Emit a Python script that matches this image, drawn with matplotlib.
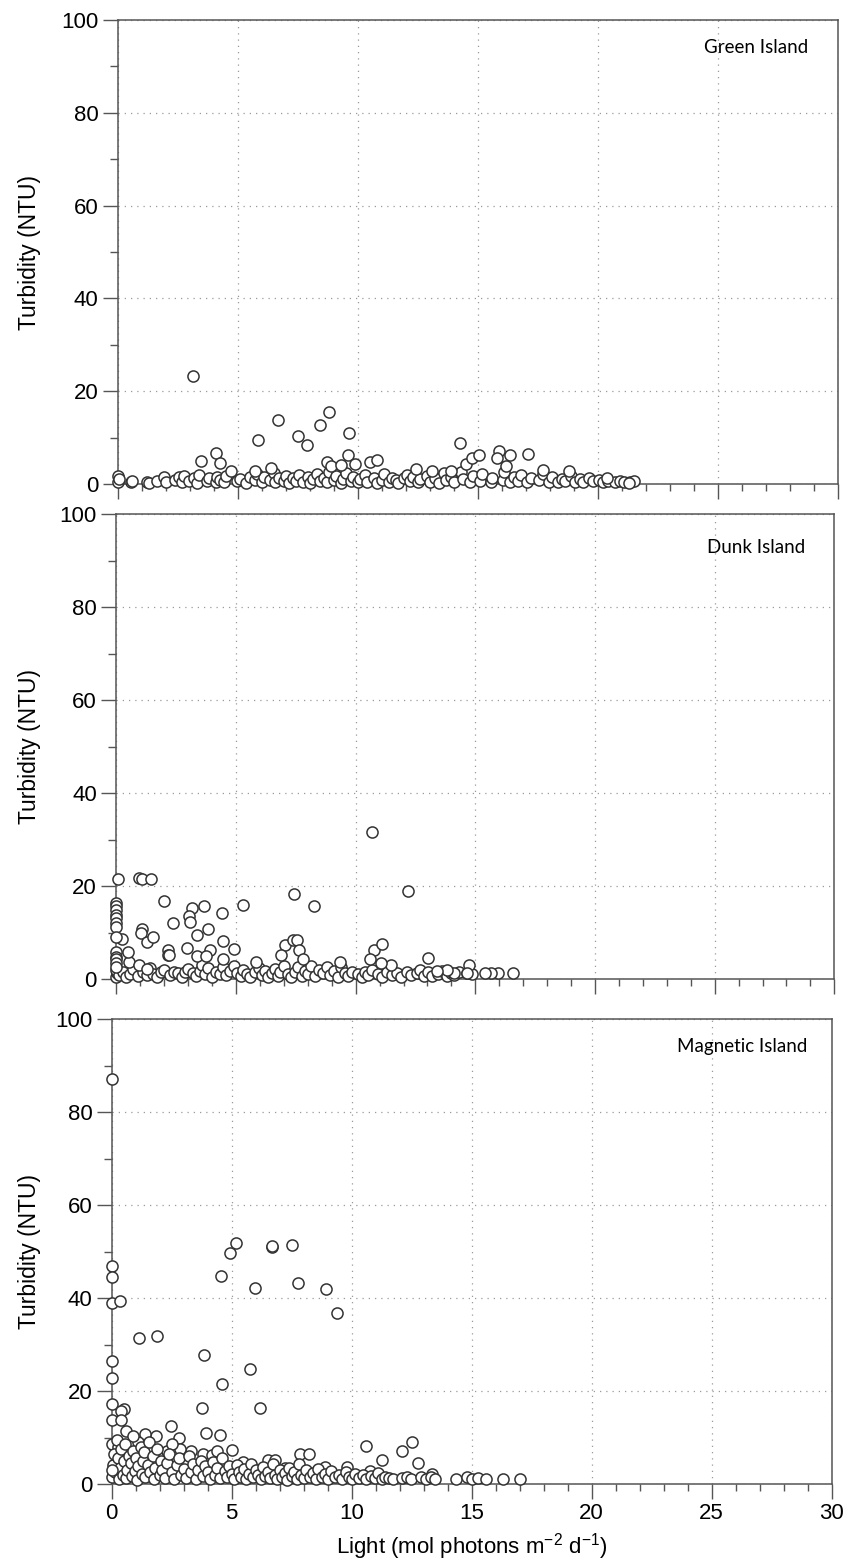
import matplotlib.pyplot as plt
from matplotlib.ticker import MultipleLocator

# Green Island: light vs turbidity
green_x = [0.0, 0.0, 0.05, 0.54, 0.6, 1.23, 1.3, 1.62, 1.93, 2.0,
           2.38, 2.55, 2.69, 2.75, 2.98, 3.19, 3.3, 3.38, 3.7, 3.8,
           4.08, 4.15, 4.27, 4.42, 4.5, 4.96, 5.1, 5.35, 5.5, 5.71,
           5.8, 6.0, 6.1, 6.35, 6.5, 6.57, 6.7, 6.93, 7.0, 7.14,
           7.3, 7.43, 7.54, 7.7, 7.93, 8.0, 8.15, 8.3, 8.43, 8.6,
           8.72, 8.8, 9.01, 9.1, 9.29, 9.4, 9.5, 9.72, 9.8, 10.01,
           10.1, 10.3, 10.4, 10.66, 10.8, 11.02, 11.1, 11.3, 11.45, 11.59,
           11.7, 11.95, 12.05, 12.16, 12.3, 12.52, 12.6, 12.88, 13.0, 13.24,
           13.4, 13.6, 13.7, 13.89, 14.0, 14.32, 14.4, 14.67, 14.8, 15.1,
           15.2, 15.54, 15.6, 16.04, 16.1, 16.33, 16.5, 16.68, 16.8, 17.04,
           17.2, 17.55, 17.7, 17.98, 18.1, 18.33, 18.5, 18.62, 18.9, 19.05,
           19.27, 19.4, 19.63, 19.8, 20.06, 20.2, 20.42, 20.7, 20.92, 21.1,
           21.35, 21.5,
           3.14, 5.85, 6.68, 7.5, 7.9, 8.43, 8.8, 9.64, 9.58, 3.45,
           4.08, 4.27, 4.7, 14.27, 14.53, 14.75, 15.06, 15.9, 15.8, 16.35,
           16.2, 17.1, 10.5, 10.8, 8.7, 8.9, 9.3, 9.9, 6.4, 5.7,
           12.45, 13.1, 13.9, 17.7, 18.8, 20.4, 21.3]
green_y = [0.5, 1.8, 1.0, 0.4, 0.6, 0.5, 0.3, 0.7, 1.6, 0.4,
           0.9, 1.5, 0.5, 1.8, 0.6, 1.4, 0.3, 1.9, 0.7, 1.2,
           0.5, 1.6, 0.9, 0.4, 1.7, 0.6, 1.1, 0.2, 1.5, 0.8,
           2.2, 0.5, 1.6, 0.9, 2.4, 0.4, 1.3, 0.6, 1.8, 0.3,
           1.2, 0.7, 2.0, 0.5, 1.5, 0.3, 1.0, 2.2, 0.6, 1.4,
           0.4, 2.6, 0.8, 1.7, 0.3, 1.1, 2.3, 0.6, 1.5, 0.4,
           1.0, 1.9, 0.5, 1.3, 0.3, 0.9, 2.1, 0.5, 1.4, 0.8,
           0.3, 1.2, 2.0, 0.6, 1.5, 0.4, 1.0, 1.8, 0.5, 1.3,
           0.3, 2.4, 0.9, 1.6, 0.5, 2.6, 1.0, 0.4, 1.8, 0.7,
           2.2, 0.5, 1.4, 0.9, 2.5, 0.4, 1.5, 0.7, 2.0, 0.5,
           1.3, 0.8, 2.2, 0.5, 1.6, 0.4, 1.1, 0.6, 1.7, 0.4,
           1.0, 0.5, 1.3, 0.6, 0.9, 0.4, 0.7, 0.5, 0.6, 0.4,
           0.5, 0.6,
           23.2, 9.5, 13.8, 10.4, 8.4, 12.7, 15.5, 10.9, 6.2, 4.9,
           6.6, 4.6, 2.7, 8.8, 4.4, 5.5, 6.2, 7.2, 5.6, 6.2,
           3.8, 6.4, 4.7, 5.2, 4.7, 3.8, 4.0, 4.4, 3.4, 2.7,
           3.2, 2.7, 2.7, 3.0, 2.7, 1.2, 0.3]

# Dunk Island
dunk_x = [0.0, 0.05, 0.0, 0.1, 0.29, 0.4, 0.57, 0.7, 0.92, 1.1,
          1.27, 1.4, 1.55, 1.7, 1.87, 2.0, 2.24, 2.4, 2.59, 2.75,
          2.87, 3.0, 3.22, 3.35, 3.5, 3.6, 3.71, 3.85, 4.01, 4.15,
          4.33, 4.45, 4.6, 4.75, 4.9, 5.03, 5.2, 5.3, 5.45, 5.6,
          5.8, 5.95, 6.07, 6.2, 6.35, 6.5, 6.63, 6.75, 6.84, 7.0,
          7.19, 7.3, 7.47, 7.6, 7.75, 7.9, 8.02, 8.15, 8.3, 8.45,
          8.65, 8.8, 8.93, 9.1, 9.28, 9.4, 9.55, 9.7, 9.85, 10.11,
          10.25, 10.4, 10.53, 10.7, 10.95, 11.1, 11.3, 11.5, 11.71, 11.9,
          12.13, 12.3, 12.55, 12.7, 12.85, 13.04, 13.2, 13.46, 13.6, 13.81,
          14.0, 14.13, 14.3, 14.64, 14.85,
          10.7, 0.08, 0.96, 1.09, 1.45, 12.2, 7.41, 8.27, 5.31, 2.0,
          2.36, 3.68, 4.4, 3.15, 3.05, 3.06, 3.82, 1.09, 1.03, 1.27,
          1.52, 0.22, 3.36, 4.47, 2.94, 2.17, 2.16, 2.2, 3.92, 4.92,
          4.47, 3.36, 3.75, 7.05, 7.4, 7.54, 7.65, 6.9, 7.82, 10.78,
          11.09, 10.6, 13.04, 14.74, 16.59, 15.95, 15.65, 15.4, 5.84, 0.54,
          0.5, 0.93, 1.28, 9.35, 11.48, 11.05, 14.65, 14.1, 13.8, 13.4,
          0.0, 0.0, 0.0, 0.0, 0.0, 0.0, 0.0, 0.0, 0.0, 0.0,
          0.0, 0.0, 0.0]
dunk_y = [0.5, 1.2, 2.0, 0.8, 1.5, 0.4, 1.0, 2.2, 0.6, 1.6,
          0.8, 2.3, 1.1, 0.5, 1.4, 2.0, 0.9, 1.5, 1.2, 0.5,
          1.4, 2.1, 1.2, 0.6, 1.8, 3.0, 1.0, 2.3, 0.4, 1.5,
          1.1, 2.6, 0.8, 1.7, 2.8, 1.2, 0.6, 2.0, 1.1, 0.5,
          1.4, 2.4, 0.9, 1.8, 0.5, 1.3, 2.2, 0.7, 1.6, 2.7,
          1.0, 0.4, 1.5, 2.5, 0.7, 1.7, 1.1, 2.8, 0.6, 1.9,
          1.2, 2.6, 0.8, 1.7, 0.4, 2.5, 1.3, 0.7, 1.6, 1.0,
          0.4, 1.4, 0.8, 2.0, 1.1, 0.5, 1.6, 0.9, 1.3, 0.5,
          1.5, 0.8, 1.2, 2.0, 0.6, 1.4, 0.7, 1.1, 1.8, 0.6,
          1.3, 0.8, 1.5, 1.2, 1.0,
          31.6, 21.4, 21.8, 21.6, 21.5, 18.9, 18.2, 15.6, 15.9, 16.8,
          12.0, 15.6, 14.1, 15.2, 13.5, 12.3, 10.7, 10.7, 9.8, 8.0,
          9.1, 8.5, 9.4, 8.2, 6.6, 6.2, 5.2, 5.1, 6.2, 6.4,
          4.4, 4.9, 4.9, 7.3, 8.4, 8.4, 6.2, 5.2, 4.4, 6.2,
          7.5, 4.4, 4.6, 3.0, 1.2, 1.2, 1.2, 1.2, 3.7, 3.7,
          5.9, 3.0, 2.1, 3.7, 3.1, 3.4, 1.2, 1.2, 1.9, 1.7,
          16.4, 15.6, 14.9, 13.8, 13.1, 12.0, 11.1, 9.1, 5.9, 4.8,
          4.4, 3.4, 2.6]

# Magnetic Island
magnetic_x = [0.0, 0.0, 0.0, 0.0, 0.35, 5.18, 4.94, 6.67, 6.69, 7.51,
              4.55, 5.99, 7.78, 8.93, 9.4, 1.15, 1.9, 3.85, 5.75, 4.6,
              0.0, 0.0, 3.75, 6.18, 0.03, 0.53, 0.39, 0.03, 0.39, 0.58,
              2.47, 3.93, 4.52, 1.83, 1.39, 0.03, 2.82, 10.58, 12.53, 12.11,
              11.28, 12.75, 5.03, 7.85, 8.22, 6.5, 6.8, 8.9, 9.79, 3.3,
              2.29, 2.85, 2.5, 1.11, 0.9, 0.28, 3.82, 4.16, 4.37, 5.48,
              7.22, 10.76, 13.36, 14.35, 14.79, 15.0, 15.25, 15.58, 16.3, 17.0,
              0.0, 0.05, 0.1, 0.15, 0.2, 0.25, 0.3, 0.35, 0.4, 0.45,
              0.5, 0.55, 0.6, 0.65, 0.7, 0.8, 0.85, 0.9, 0.95, 1.0,
              1.05, 1.1, 1.2, 1.25, 1.3, 1.35, 1.4, 1.5, 1.55, 1.6,
              1.7, 1.75, 1.8, 1.9, 2.0, 2.05, 2.1, 2.2, 2.3, 2.4,
              2.5, 2.6, 2.7, 2.8, 2.9, 3.0, 3.1, 3.2, 3.3, 3.4,
              3.5, 3.6, 3.7, 3.8, 3.9, 4.0, 4.1, 4.2, 4.3, 4.4,
              4.5, 4.6, 4.7, 4.8, 4.9, 5.0, 5.1, 5.2, 5.3, 5.4,
              5.5, 5.6, 5.7, 5.8, 5.9, 6.0, 6.1, 6.2, 6.3, 6.4,
              6.5, 6.6, 6.7, 6.8, 6.9, 7.0, 7.1, 7.2, 7.3, 7.4,
              7.5, 7.6, 7.7, 7.8, 7.9, 8.0, 8.1, 8.25, 8.4, 8.5,
              8.6, 8.75, 8.9, 9.0, 9.15, 9.3, 9.45, 9.6, 9.75, 9.9,
              10.0, 10.15, 10.3, 10.45, 10.6, 10.8, 10.95, 11.1, 11.25, 11.4,
              11.55, 11.7, 12.1, 12.3, 12.45, 12.9, 13.1, 13.3, 13.45, 0.0]
magnetic_y = [87.0, 46.9, 44.6, 39.0, 39.4, 51.9, 49.7, 51.0, 51.2, 51.3,
              44.8, 42.2, 43.2, 42.0, 36.8, 31.5, 31.8, 27.7, 24.7, 21.5,
              26.5, 22.8, 16.3, 16.4, 17.2, 16.1, 15.8, 13.8, 13.8, 11.5,
              12.5, 10.9, 10.5, 10.4, 10.7, 8.6, 10.0, 8.2, 9.1, 7.0,
              5.2, 4.6, 7.3, 6.5, 6.5, 5.2, 5.1, 3.7, 3.7, 7.0,
              7.2, 7.6, 8.7, 9.0, 10.4, 8.0, 6.5, 6.3, 7.0, 4.8,
              3.4, 2.7, 2.2, 1.0, 1.4, 1.0, 1.2, 1.0, 1.0, 1.0,
              1.5, 4.0, 6.5, 2.5, 9.5, 5.5, 1.0, 3.5, 7.5, 2.0,
              5.0, 8.5, 1.2, 3.0, 6.0, 4.5, 1.8, 7.0, 2.8, 5.5,
              0.8, 3.8, 8.0, 2.2, 5.0, 6.8, 1.5, 4.0, 9.0, 2.5,
              6.0, 1.0, 3.5, 7.5, 2.0, 5.0, 3.0, 1.2, 4.5, 6.5,
              2.5, 1.0, 4.0, 5.5, 2.0, 3.2, 1.3, 6.0, 2.5, 4.2,
              1.0, 3.0, 5.0, 1.8, 3.8, 2.5, 1.0, 4.8, 2.0, 3.5,
              1.3, 5.5, 2.8, 1.5, 3.8, 2.2, 1.0, 4.0, 2.5, 1.5,
              3.3, 1.0, 2.2, 4.2, 1.5, 3.0, 2.0, 1.0, 3.6, 1.8,
              2.5, 1.2, 4.2, 2.0, 1.0, 3.0, 1.5, 2.3, 0.8, 3.4,
              1.8, 2.6, 1.0, 4.4, 2.0, 1.2, 3.0, 1.6, 2.4, 1.0,
              3.2, 1.5, 2.2, 1.0, 2.8, 1.4, 2.0, 1.0, 2.6, 1.5,
              1.0, 2.2, 1.3, 2.0, 1.0, 1.8, 1.2, 2.4, 1.0, 1.6,
              1.2, 1.0, 1.2, 1.6, 1.0, 1.4, 1.0, 1.5, 1.0, 3.0]

names = ['Green Island', 'Dunk Island', 'Magnetic Island']
xs = [green_x, dunk_x, magnetic_x]
ys = [green_y, dunk_y, magnetic_y]

W, H = 849, 1564
# panel rectangles in pixels: left, top, width, height
boxes = [(117.7, 20, 720, 464), (116.3, 514, 718, 465), (111.7, 1019, 720, 465)]
name_pos = [(0.959, 0.94), (0.96, 0.927), (0.966, 0.94)]

plt.rcParams['font.family'] = ['Liberation Sans', 'DejaVu Sans']
plt.rcParams['mathtext.fontset'] = 'custom'
plt.rcParams['mathtext.rm'] = 'Liberation Sans'
plt.rcParams['mathtext.it'] = 'Liberation Sans'
plt.rcParams['mathtext.default'] = 'regular'
fig = plt.figure(figsize=(W / 100, H / 100), dpi=100)

spine_c = '#555555'
for i in range(3):
    l, t, w, h = boxes[i]
    ax = fig.add_axes([l / W, (H - t - h) / H, w / W, h / H])
    ax.scatter(xs[i], ys[i], s=64, facecolor='white', edgecolor='#333333',
               linewidths=1.1, zorder=3, clip_on=False)
    ax.set_xlim(0, 30)
    ax.set_ylim(0, 100)
    ax.xaxis.set_major_locator(MultipleLocator(5))
    ax.xaxis.set_minor_locator(MultipleLocator(1))
    ax.yaxis.set_major_locator(MultipleLocator(20))
    ax.yaxis.set_minor_locator(MultipleLocator(10))
    ax.grid(True, which='major', linestyle=(0, (1, 4)), color='#9a9a9a', linewidth=0.9)
    ax.tick_params(which='major', length=11, width=1.0, color=spine_c,
                   labelsize=16, pad=3, top=False, right=False)
    ax.tick_params(axis='x', which='minor', direction='out', length=5, width=1.0, color=spine_c,
                   top=False)
    ax.tick_params(axis='y', which='minor', direction='out', length=6, width=1.0, color=spine_c,
                   right=False)
    for sp in ax.spines.values():
        sp.set_color(spine_c)
        sp.set_linewidth(1.1)
    ax.set_ylabel('Turbidity (NTU)', fontsize=16.5)
    ax.yaxis.set_label_coords((41 - l) / w, 0.5)
    if i < 2:
        ax.tick_params(axis='x', labelbottom=False)
    else:
        ax.set_xlabel('Light (mol photons m$^{-2}$ d$^{-1}$)', fontsize=16, labelpad=5)
    ax.text(name_pos[i][0], name_pos[i][1], names[i], transform=ax.transAxes,
            ha='right', va='center', fontsize=13.5, family='Lato')

fig.savefig('out.png', dpi=100, facecolor='white')
